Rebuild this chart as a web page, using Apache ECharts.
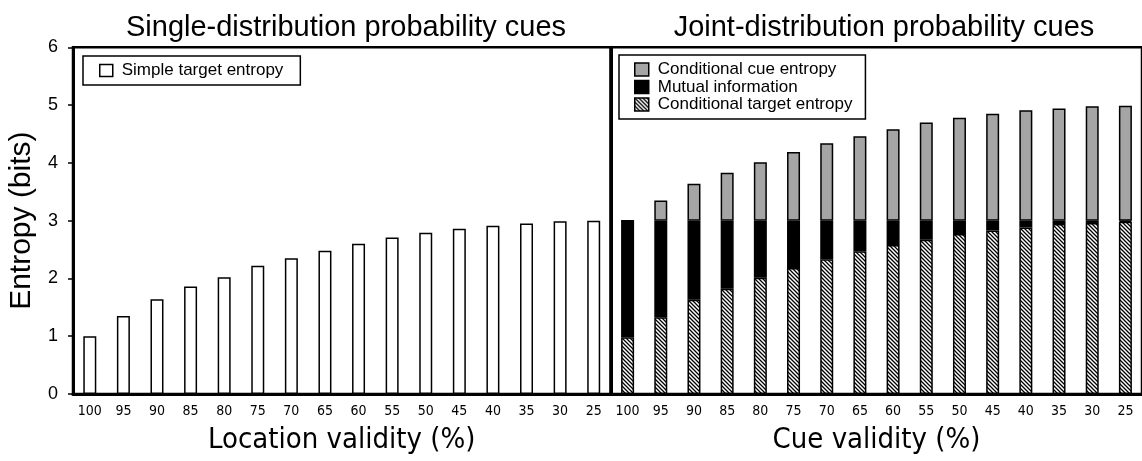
<!DOCTYPE html>
<html>
<head>
<meta charset="utf-8">
<style>
  html, body { margin: 0; padding: 0; background: #fff; }
  #chart { width: 1142px; height: 461px; }
</style>
<script src="https://cdn.jsdelivr.net/npm/echarts@6/dist/echarts.min.js"></script>
</head>
<body>
<div id="chart"></div>
<script>
// Validity levels (%) shared by both panels
const validity = ['100', '95', '90', '85', '80', '75', '70', '65', '60', '55', '50', '45', '40', '35', '30', '25'];
const yTicks = [0, 1, 2, 3, 4, 5, 6];

// Single-distribution cues: simple target entropy (bits)
const simpleTarget = [1.00, 1.35, 1.64, 1.86, 2.02, 2.22, 2.35, 2.48, 2.60, 2.71, 2.79, 2.86, 2.91, 2.95, 2.99, 3.00];

// Joint-distribution cues, stacked from the bottom (bits)
const condTarget = [0.98, 1.33, 1.63, 1.82, 2.01, 2.18, 2.33, 2.47, 2.58, 2.67, 2.77, 2.83, 2.88, 2.94, 2.96, 2.98];
const mutualInfo = [2.02, 1.67, 1.37, 1.18, 0.99, 0.82, 0.67, 0.53, 0.42, 0.33, 0.23, 0.17, 0.12, 0.06, 0.04, 0.02];
const condCue    = [0.00, 0.35, 0.64, 0.83, 1.01, 1.19, 1.34, 1.46, 1.58, 1.70, 1.78, 1.85, 1.91, 1.94, 1.98, 1.99];

const SANS = "'Liberation Sans', Arial, sans-serif";
const NARROW = "'Liberation Sans Narrow', 'Arial Narrow', 'DejaVu Sans Condensed', sans-serif";

// Diagonal hatch tile for the conditional target entropy segments
function hatchTile() {
  const c = document.createElement('canvas');
  c.width = 4; c.height = 4;
  const g = c.getContext('2d');
  g.fillStyle = '#fff';
  g.fillRect(0, 0, 4, 4);
  g.strokeStyle = '#000';
  g.lineWidth = 1.3;
  g.beginPath();
  g.moveTo(-1, -1); g.lineTo(5, 5);
  g.moveTo(-1, 3); g.lineTo(1, 5);
  g.moveTo(3, -1); g.lineTo(5, 1);
  g.stroke();
  return c;
}
const hatch = { image: hatchTile(), repeat: 'repeat' };

const plotTop = 47.3, plotHeight = 346.7;

function xAxisFor(gridIndex, name) {
  return {
    type: 'category', gridIndex, data: validity,
    name, nameLocation: 'middle', nameGap: 32,
    nameTextStyle: { fontFamily: NARROW, fontSize: 29, color: '#000' },
    axisLine: { lineStyle: { color: '#000', width: 3 } },
    axisTick: { show: false },
    axisLabel: { fontFamily: NARROW, fontSize: 14, color: '#000', margin: 10, interval: 0 }
  };
}

function yAxisFor(gridIndex, showLabels) {
  return {
    type: 'value', gridIndex, min: 0, max: 6, interval: 1,
    name: showLabels ? 'Entropy (bits)' : '',
    nameLocation: 'middle', nameGap: 36,
    nameTextStyle: { fontFamily: SANS, fontSize: 30, color: '#000' },
    axisLine: { show: true, lineStyle: { color: '#000', width: 3 } },
    axisTick: { show: showLabels, length: 5, lineStyle: { color: '#000', width: 1.5 } },
    axisLabel: { show: showLabels, fontFamily: SANS, fontSize: 18, color: '#000', margin: 15,
      customValues: yTicks },
    splitLine: { show: false }
  };
}

const barBorder = { borderColor: '#000', borderWidth: 1.5 };

const option = {
  animation: false,
  backgroundColor: '#fff',
  title: [
    { text: 'Single-distribution probability cues', left: 341, top: 8, textAlign: 'center',
      textStyle: { fontFamily: SANS, fontSize: 29, fontWeight: 'normal', color: '#000' } },
    { text: 'Joint-distribution probability cues', left: 879, top: 8, textAlign: 'center',
      textStyle: { fontFamily: SANS, fontSize: 29, fontWeight: 'normal', color: '#000' } }
  ],
  legend: [
    { data: ['Simple target entropy'], left: 83, top: 56, orient: 'vertical',
      padding: [6, 17, 6, 16], borderColor: '#000', borderWidth: 1.5,
      itemWidth: 13, itemHeight: 12, icon: 'rect', selectedMode: false,
      itemStyle: { borderColor: '#000', borderWidth: 1.5 },
      textStyle: { fontFamily: SANS, fontSize: 17, lineHeight: 17, color: '#000', padding: [0, 0, 0, 4] } },
    { data: ['Conditional cue entropy', 'Mutual information', 'Conditional target entropy'],
      left: 619, top: 55, orient: 'vertical', itemGap: 0.5,
      padding: [6, 13, 6, 15], borderColor: '#000', borderWidth: 1.5,
      itemWidth: 14, itemHeight: 13, icon: 'rect', selectedMode: false,
      itemStyle: { borderColor: '#000', borderWidth: 1.5 },
      textStyle: { fontFamily: SANS, fontSize: 17, lineHeight: 17, color: '#000', padding: [0, 0, 0, 4] } }
  ],
  grid: [
    { left: 73, top: plotTop, width: 537.5, height: plotHeight, show: true, borderColor: '#000', borderWidth: 2.5 },
    { left: 611, top: plotTop, width: 535.5, height: plotHeight, show: true, borderColor: '#000', borderWidth: 2.5 }
  ],
  xAxis: [xAxisFor(0, 'Location validity (%)'), xAxisFor(1, 'Cue validity (%)')],
  yAxis: [yAxisFor(0, true), yAxisFor(1, false)],
  series: [
    { name: 'Simple target entropy', type: 'bar', xAxisIndex: 0, yAxisIndex: 0,
      data: simpleTarget, barWidth: 13,
      itemStyle: Object.assign({ color: '#fff' }, barBorder) },
    { name: 'Conditional target entropy', type: 'bar', stack: 'joint', xAxisIndex: 1, yAxisIndex: 1,
      data: condTarget, barWidth: 13,
      itemStyle: Object.assign({ color: hatch }, barBorder) },
    { name: 'Mutual information', type: 'bar', stack: 'joint', xAxisIndex: 1, yAxisIndex: 1,
      data: mutualInfo, barWidth: 13,
      itemStyle: Object.assign({ color: '#000' }, barBorder) },
    { name: 'Conditional cue entropy', type: 'bar', stack: 'joint', xAxisIndex: 1, yAxisIndex: 1,
      data: condCue, barWidth: 13,
      itemStyle: Object.assign({ color: '#a5a5a5' }, barBorder) }
  ]
};

const chart = echarts.init(document.getElementById('chart'), null, { renderer: 'canvas' });
chart.setOption(option);
</script>
</body>
</html>
